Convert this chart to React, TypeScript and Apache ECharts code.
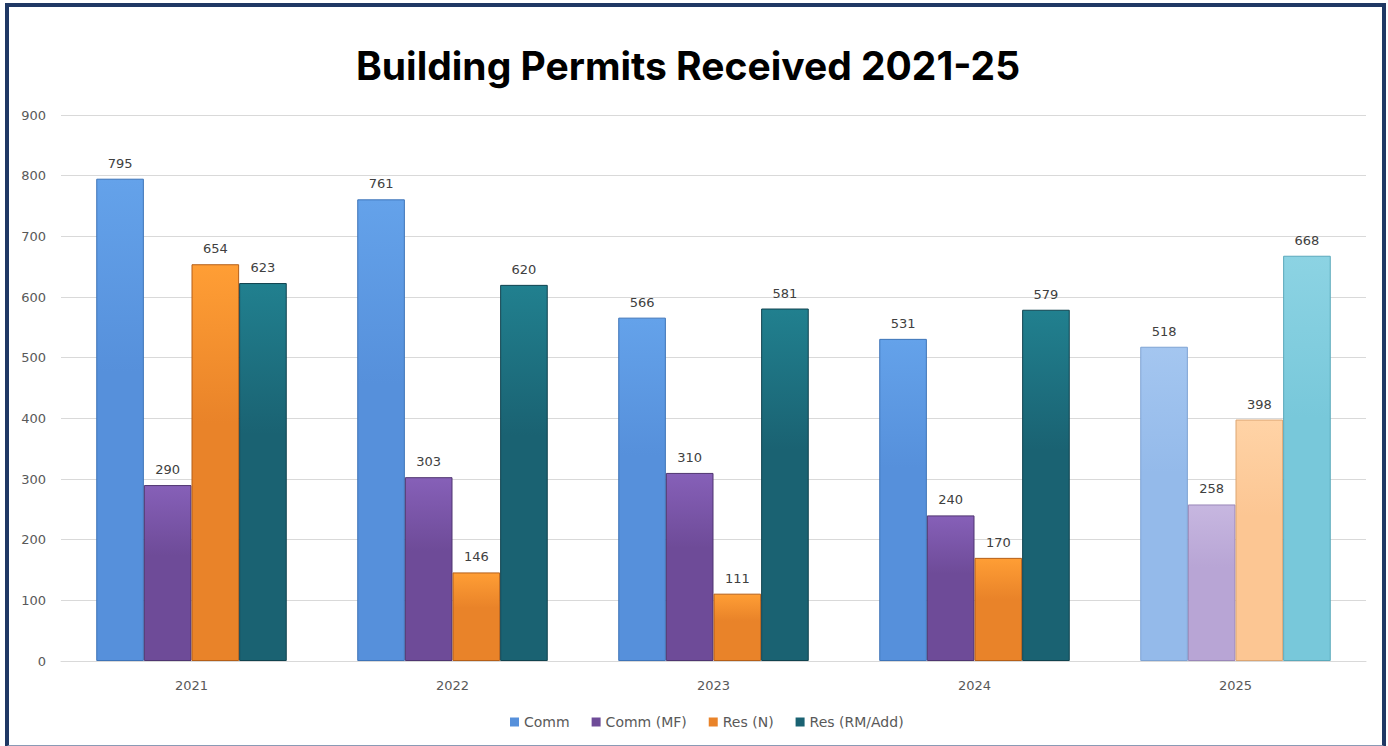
import React, { useEffect, useRef } from "react";
import * as echarts from "echarts";

const years = ["2021", "2022", "2023", "2024", "2025"];
const comm = [795, 761, 566, 531, 518];
const commMF = [290, 303, 310, 240, 258];
const resN = [654, 146, 111, 170, 398];
const resRM = [623, 620, 581, 579, 668];
const seriesNames = ["Comm", "Comm (MF)", "Res (N)", "Res (RM/Add)"];
const yTicks = { min: 0, max: 900, interval: 100 };

const baseColors = [
  ["#64A2EA", "#5690DB", "#3E74B8"],
  ["#8660B8", "#6E4B98", "#4F3570"],
  ["#FF9E35", "#E98329", "#B55F18"],
  ["#21808F", "#1A6272", "#10434F"],
];
const lightColors = [
  ["#A4C6F0", "#94BAEA", "#7EA3D3"],
  ["#C7B7E0", "#B8A5D5", "#9A87B8"],
  ["#FFD3A6", "#FCC693", "#DCA673"],
  ["#8CD3E3", "#78C8DA", "#5BA9BB"],
];

function grad(c: string[]) {
  return new echarts.graphic.LinearGradient(0, 0, 0, 1, [
    { offset: 0, color: c[0] },
    { offset: 0.4, color: c[1] },
    { offset: 1, color: c[1] },
  ]);
}

export default function App() {
  const ref = useRef<HTMLDivElement>(null);
  useEffect(() => {
    if (!ref.current) return;
    const chart = echarts.init(ref.current, null, { renderer: "svg" });
    const all = [comm, commMF, resN, resRM];
    const series = all.map((vals, si) => ({
      name: seriesNames[si],
      type: "bar",
      barGap: "0%",
      barCategoryGap: "27%",
      data: vals.map((v, i) => {
        const c = i === vals.length - 1 ? lightColors[si] : baseColors[si];
        return {
          value: v,
          itemStyle: {
            color: grad(c),
            borderColor: c[2],
            borderWidth: 1,
          },
        };
      }),
      label: {
        show: true,
        position: "top",
        distance: 9,
        color: "#404040",
        fontSize: 13,
        fontFamily: "DejaVu Sans",
      },
      itemStyle: { color: baseColors[si][1] },
    }));
    chart.setOption({
      animation: false,
      backgroundColor: "#ffffff",
      title: {
        text: "Building Permits Received 2021-25",
        left: 351,
        top: 41,
        textStyle: {
          fontFamily: "Inter",
          fontWeight: "bold",
          fontSize: 39,
          color: "#000000",
        },
      },
      legend: {
        top: 710,
        left: 505,
        itemWidth: 9,
        itemHeight: 9,
        itemGap: 22,
        icon: "rect",
        textStyle: {
          fontFamily: "DejaVu Sans",
          fontSize: 14,
          color: "#595959",
        },
        data: seriesNames,
      },
      color: baseColors.map((c) => c[1]),
      grid: { left: 61, right: 22, top: 115, bottom: 85, containLabel: false },
      xAxis: {
        type: "category",
        data: years,
        axisLine: { lineStyle: { color: "#D9D9D9" } },
        axisTick: { show: false },
        axisLabel: {
          color: "#595959",
          fontSize: 13,
          fontFamily: "DejaVu Sans",
          margin: 18,
        },
      },
      yAxis: {
        type: "value",
        min: yTicks.min,
        max: yTicks.max,
        interval: yTicks.interval,
        axisLine: { show: false },
        axisTick: { show: false },
        splitLine: { lineStyle: { color: "#D9D9D9" } },
        axisLabel: {
          color: "#595959",
          fontSize: 13,
          fontFamily: "DejaVu Sans",
          margin: 15,
        },
      },
      series,
    });
    return () => chart.dispose();
  }, []);

  return (
    <div
      style={{
        position: "fixed",
        left: 0,
        top: 0,
        width: 1388,
        height: 746,
        background: "#ffffff",
      }}
    >
      <div ref={ref} style={{ position: "absolute", left: 0, top: 0, width: 1388, height: 746 }} />
      <div
        style={{
          position: "absolute",
          left: 5,
          top: 3,
          width: 1381,
          height: 744,
          border: "4px solid #1F3864",
          borderBottom: "2px solid #8A9AB5",
          boxSizing: "border-box",
          pointerEvents: "none",
        }}
      />
    </div>
  );
}
